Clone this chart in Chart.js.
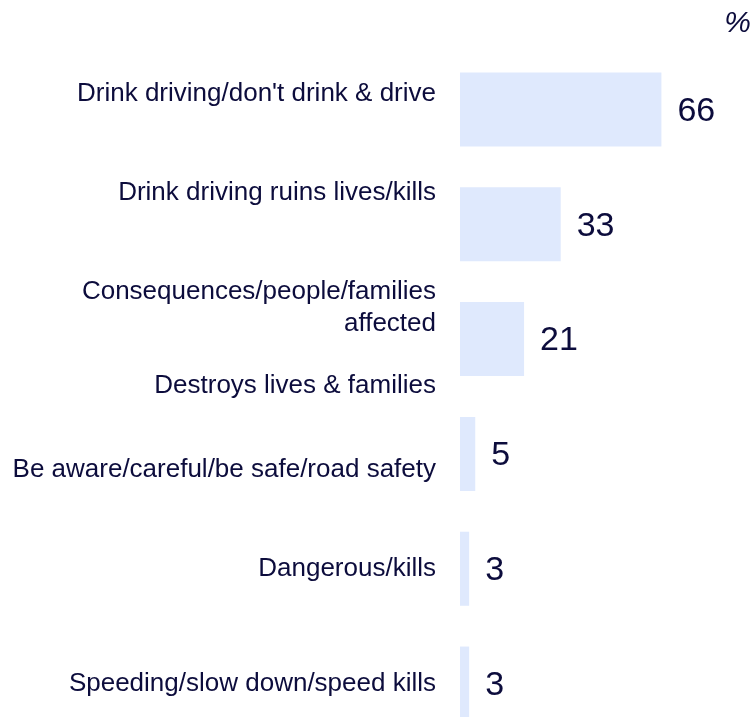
<!DOCTYPE html>
<html>
<head>
<meta charset="utf-8">
<script src="https://cdn.jsdelivr.net/npm/chart.js@4.4.1/dist/chart.umd.min.js"></script>
<style>
  html, body { margin: 0; padding: 0; background: #fff; overflow: hidden; }
  canvas { display: block; }
</style>
</head>
<body>
<canvas id="chart" width="756" height="741"></canvas>
<script>
// Responses (%)
const categories = [
  "Drink driving/don't drink & drive",
  "Drink driving ruins lives/kills",
  ["Consequences/people/families", "affected", "", "Destroys lives & families"],
  "Be aware/careful/be safe/road safety",
  "Dangerous/kills",
  "Speeding/slow down/speed kills"
];
const values = [66, 33, 21, 5, 3, 3];

// blank lines padded under (+) or over (-) a label to nudge it off the bar centre
const labelNudge = [1, 2, 0, -1, 0, 0];

const navy = '#0c0c3c';
const barFill = '#dfe9fd';
const fontFamily = '"Liberation Sans", Arial, sans-serif';

function nudged(label, n) {
  const lines = Array.isArray(label) ? label.slice() : [label];
  for (let i = 0; i < Math.abs(n); i++) {
    if (n > 0) lines.push(''); else lines.unshift('');
  }
  return lines;
}

// numbers at the end of each bar, plus the unit in the top corner
const valueLabels = {
  id: 'valueLabels',
  afterDatasetsDraw(chart) {
    const { ctx } = chart;
    const meta = chart.getDatasetMeta(0);
    ctx.save();
    ctx.font = '34px ' + fontFamily;
    ctx.fillStyle = navy;
    ctx.textAlign = 'left';
    ctx.textBaseline = 'middle';
    meta.data.forEach((bar, i) => {
      ctx.fillText(String(values[i]), bar.x + 16, bar.y + 2);
    });
    ctx.font = 'italic 30px ' + fontFamily;
    ctx.textAlign = 'right';
    ctx.fillText('%', 751, 24);
    ctx.restore();
  }
};

new Chart(document.getElementById('chart'), {
  type: 'bar',
  data: {
    labels: categories,
    datasets: [{
      data: values,
      backgroundColor: barFill,
      borderWidth: 0,
      categoryPercentage: 1,
      barPercentage: 0.645
    }]
  },
  options: {
    indexAxis: 'y',
    responsive: false,
    animation: false,
    layout: { padding: { top: 52, right: 0, bottom: 0, left: 0 } },
    scales: {
      x: { display: false, min: 0, max: 97 },
      y: {
        afterFit: scale => { scale.width = 460; scale.paddingTop = 0; scale.paddingBottom = 0; },
        grid: { display: false, drawTicks: false },
        border: { display: false },
        ticks: {
          autoSkip: false,
          padding: 24,
          color: navy,
          font: { family: fontFamily, size: 26, lineHeight: 1.2 },
          callback: function (v, i) { return nudged(categories[i], labelNudge[i]); }
        }
      }
    },
    plugins: {
      legend: { display: false },
      tooltip: { enabled: false },
      title: { display: false }
    }
  },
  plugins: [valueLabels]
});
</script>
</body>
</html>
